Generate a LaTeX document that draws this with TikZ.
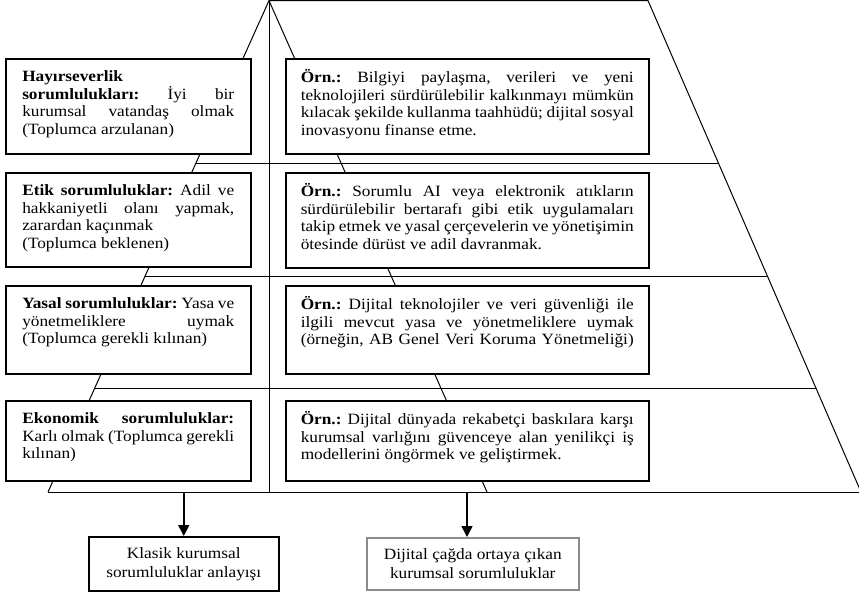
\documentclass[tikz,border=0pt]{standalone}
\usepackage{fontspec}
\setmainfont{Liberation Serif}[FakeStretch=1.1]
\usetikzlibrary{arrows.meta,calc}
\newcommand\jrow[1]{\hbox to\linewidth{\strut\spaceskip=.25em plus 1fil minus .1em\relax\xspaceskip=\spaceskip #1}}
\newcommand\lrow[1]{\hbox to\linewidth{\strut #1\hfil}}
\newcommand\bxtext[3]{\parbox[c][#2][t]{#1}{\baselineskip=17.6pt\lineskiplimit=-10pt\relax\vskip 10.7pt\relax #3}}
\begin{document}
\begin{tikzpicture}[x=1pt,y=-1pt,
  font=\fontsize{15.7}{17.6}\selectfont\frenchspacing,
  pline/.style={line width=1pt},
  lbox/.style={draw, line width=1.5pt, fill=white, inner xsep=16.5pt, inner ysep=0pt, anchor=north west},
  rbox/.style={lbox, inner xsep=15pt},
  bbox/.style={draw, line width=1.5pt, fill=white, inner sep=0pt, align=center, anchor=north west, font=\fontsize{15.7}{19}\selectfont},
  arr/.style={line width=1.6pt, -{Triangle[length=11pt,width=11pt]}}]
\useasboundingbox (0,0) rectangle (859,595);
% pyramid frame
\coordinate (A) at (269,0.6);
\coordinate (TR) at (648,0.6);
\coordinate (BL) at (48,492);
\coordinate (BR) at (861,492);
\coordinate (BV) at (269,492);
\coordinate (BI) at (487,492);
\coordinate (BE) at (859,492);
\draw[pline] (BL) -- (A) -- (TR) -- (BR);
\draw[pline] (BL) -- (BE);
\draw[pline] (A) -- (BV);
\draw[pline] (A) -- (BI);
\foreach \f in {163,276,388} \draw[pline] ($(A)!{\f/492}!(BL)$) -- ($(TR)!{\f/492}!(BR)$);
% left boxes
\node[lbox] (L1) at (5,58) {\bxtext{212pt}{95pt}{%
\lrow{\textbf{Hayırseverlik}}
\jrow{\textbf{sorumlulukları:} İyi bir}
\jrow{kurumsal vatandaş olmak}
\lrow{(Toplumca arzulanan)}}};
\node[lbox] (L2) at (5,172) {\bxtext{212pt}{94pt}{%
\jrow{\textbf{Etik sorumluluklar:} Adil ve}
\jrow{hakkaniyetli olanı yapmak,}
\lrow{zarardan kaçınmak}
\lrow{(Toplumca beklenen)}}};
\node[lbox] (L3) at (5,285) {\bxtext{212pt}{88pt}{%
\jrow{\textbf{Yasal sorumluluklar:} Yasa ve}
\jrow{yönetmeliklere uymak}
\lrow{(Toplumca gerekli kılınan)}}};
\node[lbox] (L4) at (5,400) {\bxtext{212pt}{80pt}{%
\jrow{\textbf{Ekonomik sorumluluklar:}}
\jrow{Karlı olmak (Toplumca gerekli}
\lrow{kılınan)}}};
% right boxes
\node[rbox] (R1) at (285,58) {\bxtext{333pt}{95pt}{%
\jrow{\textbf{Örn.:} Bilgiyi paylaşma, verileri ve yeni}
\jrow{teknolojileri sürdürülebilir kalkınmayı mümkün}
\jrow{kılacak şekilde kullanma taahhüdü; dijital sosyal}
\lrow{inovasyonu finanse etme.}}};
\node[rbox] (R2) at (285,172) {\bxtext{333pt}{95pt}{%
\jrow{\textbf{Örn.:} Sorumlu AI veya elektronik atıkların}
\jrow{sürdürülebilir bertarafı gibi etik uygulamaları}
\jrow{takip etmek ve yasal çerçevelerin ve yönetişimin}
\lrow{ötesinde dürüst ve adil davranmak.}}};
\node[rbox] (R3) at (285,285) {\bxtext{333pt}{88pt}{%
\jrow{\textbf{Örn.:} Dijital teknolojiler ve veri güvenliği ile}
\jrow{ilgili mevcut yasa ve yönetmeliklere uymak}
\jrow{(örneğin, AB Genel Veri Koruma Yönetmeliği)}}};
\node[rbox] (R4) at (285,400) {\bxtext{333pt}{80pt}{%
\jrow{\textbf{Örn.:} Dijital dünyada rekabetçi baskılara karşı}
\jrow{kurumsal varlığını güvenceye alan yenilikçi iş}
\lrow{modellerini öngörmek ve geliştirmek.}}};
% bottom boxes
\node[bbox, minimum width=190pt, minimum height=54pt] (B1) at (88,536) {Klasik kurumsal\\sorumluluklar anlayışı};
\node[bbox, draw=black!45, minimum width=212pt, minimum height=52pt] (B2) at (366,537) {Dijital çağda ortaya çıkan\\kurumsal sorumluluklar};
% arrows
\coordinate (a1) at (B1.north |- BL);
\coordinate (a2) at (467,492);
\draw[arr] (a1) -- (B1.north);
\draw[arr] (a2) -- (a2 |- B2.north);
\end{tikzpicture}
\end{document}
